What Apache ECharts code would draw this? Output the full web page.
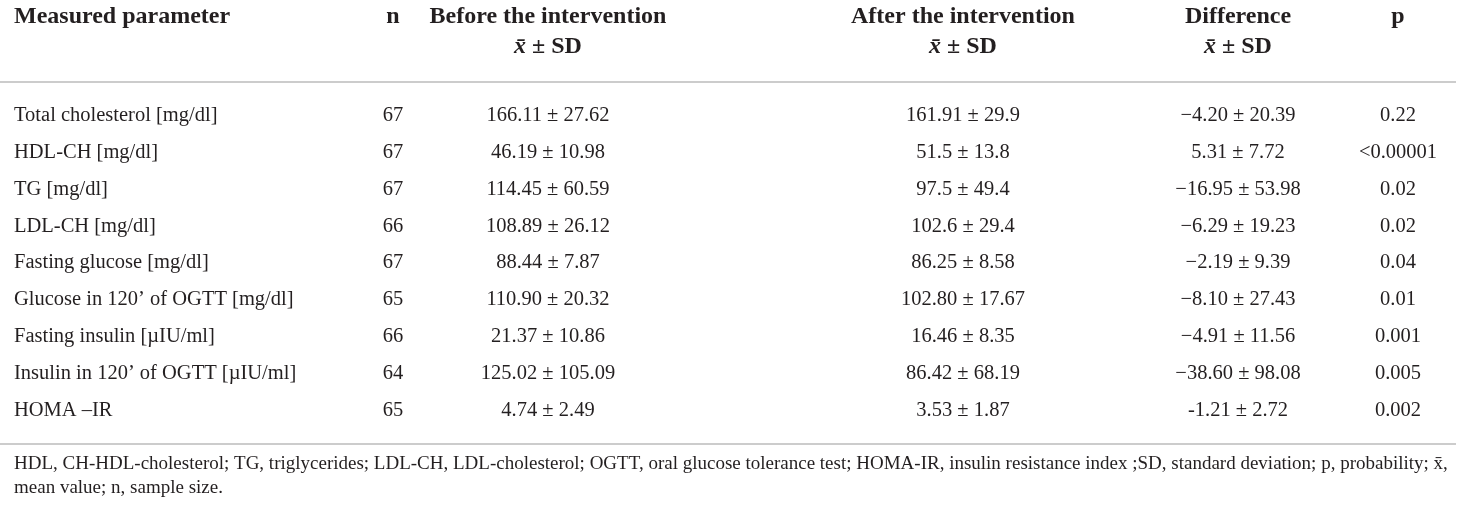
<!DOCTYPE html>
<html>
<head>
<meta charset="utf-8">
<script src="https://cdn.jsdelivr.net/npm/echarts@6/dist/echarts.min.js"></script>
<style>
  html, body { margin: 0; padding: 0; background: #fff; }
  #main { width: 1460px; height: 510px; }
</style>
</head>
<body>
<div id="main"></div>
<script>
// table data
var params = ['Total cholesterol [mg/dl]', 'HDL-CH [mg/dl]', 'TG [mg/dl]', 'LDL-CH [mg/dl]',
  'Fasting glucose [mg/dl]', 'Glucose in 120\u2019 of OGTT [mg/dl]', 'Fasting insulin [\u00b5IU/ml]',
  'Insulin in 120\u2019 of OGTT [\u00b5IU/ml]', 'HOMA \u2013IR'];
var nValues = ['67', '67', '67', '66', '67', '65', '66', '64', '65'];
var beforeVals = ['166.11 \u00b1 27.62', '46.19 \u00b1 10.98', '114.45 \u00b1 60.59', '108.89 \u00b1 26.12',
  '88.44 \u00b1 7.87', '110.90 \u00b1 20.32', '21.37 \u00b1 10.86', '125.02 \u00b1 105.09', '4.74 \u00b1 2.49'];
var afterVals = ['161.91 \u00b1 29.9', '51.5 \u00b1 13.8', '97.5 \u00b1 49.4', '102.6 \u00b1 29.4',
  '86.25 \u00b1 8.58', '102.80 \u00b1 17.67', '16.46 \u00b1 8.35', '86.42 \u00b1 68.19', '3.53 \u00b1 1.87'];
var diffVals = ['\u22124.20 \u00b1 20.39', '5.31 \u00b1 7.72', '\u221216.95 \u00b1 53.98', '\u22126.29 \u00b1 19.23',
  '\u22122.19 \u00b1 9.39', '\u22128.10 \u00b1 27.43', '\u22124.91 \u00b1 11.56', '\u221238.60 \u00b1 98.08', '-1.21 \u00b1 2.72'];
var pValues = ['0.22', '<0.00001', '0.02', '0.02', '0.04', '0.01', '0.001', '0.005', '0.002'];

var headTop = ['Measured parameter', 'n', 'Before the intervention', 'After the intervention', 'Difference', 'p'];
var headSub = ['', '', 'mean', 'mean', 'mean', ''];
var footnote = 'HDL, CH-HDL-cholesterol; TG, triglycerides; LDL-CH, LDL-cholesterol; OGTT, oral glucose tolerance test; HOMA-IR, insulin resistance index ;SD, standard deviation; p, probability; x\u0304,\nmean value; n, sample size.';

// layout
var colX = [14, 393, 548, 963, 1238, 1398];
var font = 'Liberation Serif';
var ink = '#231f20';

var columns = [params, nValues, beforeVals, afterVals, diffVals, pValues];

var myChart = echarts.init(document.getElementById('main'));

var series = [];
columns.forEach(function (col, c) {
  series.push({
    type: 'scatter',
    xAxisIndex: 0,
    yAxisIndex: 0,
    symbolSize: 1,
    itemStyle: { color: 'rgba(0,0,0,0)', opacity: 1 },
    silent: true,
    data: col.map(function (txt, r) { return { value: [colX[c], r], txt: txt }; }),
    label: {
      show: true,
      position: 'inside',
      align: c === 0 ? 'left' : 'center',
      verticalAlign: 'middle',
      fontFamily: font,
      fontSize: 20.5,
      color: ink,
      formatter: function (p) { return p.data.txt; }
    }
  });
});

// header cells
var headData = [];
headTop.forEach(function (txt, c) {
  headData.push({ value: [colX[c], 0], txt: txt, label: { align: c === 0 ? 'left' : 'center' } });
});
headSub.forEach(function (txt, c) {
  headData.push({ value: [colX[c], 1], txt: txt, label: { align: 'center' } });
});

series.push({
  type: 'scatter',
  xAxisIndex: 1,
  yAxisIndex: 1,
  symbolSize: 1,
  itemStyle: { color: 'rgba(0,0,0,0)', opacity: 1 },
  silent: true,
  data: headData,
  label: {
    show: true,
    position: 'inside',
    verticalAlign: 'middle',
    fontFamily: font,
    fontSize: 24,
    fontWeight: 'bold',
    color: ink,
    formatter: function (p) {
      if (p.data.txt === 'mean') return '{i|x\u0304} \u00b1 SD';
      return p.data.txt;
    },
    rich: {
      i: { fontFamily: font, fontSize: 24, fontWeight: 'bold', fontStyle: 'italic', color: ink }
    }
  }
});

var option = {
  backgroundColor: '#fff',
  animation: false,
  title: {
    text: footnote,
    left: 14,
    top: 452,
    padding: 0,
    textStyle: { fontFamily: font, fontSize: 19, fontWeight: 'normal', color: ink, lineHeight: 24 }
  },
  grid: [
    { left: 0, right: 0, top: 97, height: 332 },
    { left: 0, right: 0, top: 2, height: 60 }
  ],
  xAxis: [
    { type: 'value', gridIndex: 0, min: 0, max: 1460, show: false },
    { type: 'value', gridIndex: 1, min: 0, max: 1460, show: false }
  ],
  yAxis: [
    { type: 'category', gridIndex: 0, inverse: true, data: params.map(function (d, i) { return i; }), show: false },
    { type: 'category', gridIndex: 1, inverse: true, data: [0, 1], show: false }
  ],
  graphic: [
    { type: 'line', shape: { x1: 0, y1: 82, x2: 1456, y2: 82 }, style: { stroke: '#cccccc', lineWidth: 2 } },
    { type: 'line', shape: { x1: 0, y1: 444, x2: 1456, y2: 444 }, style: { stroke: '#cccccc', lineWidth: 2 } }
  ],
  series: series
};

myChart.setOption(option);
window.addEventListener('resize', function () {
  myChart.resize();
});
</script>
</body>
</html>
